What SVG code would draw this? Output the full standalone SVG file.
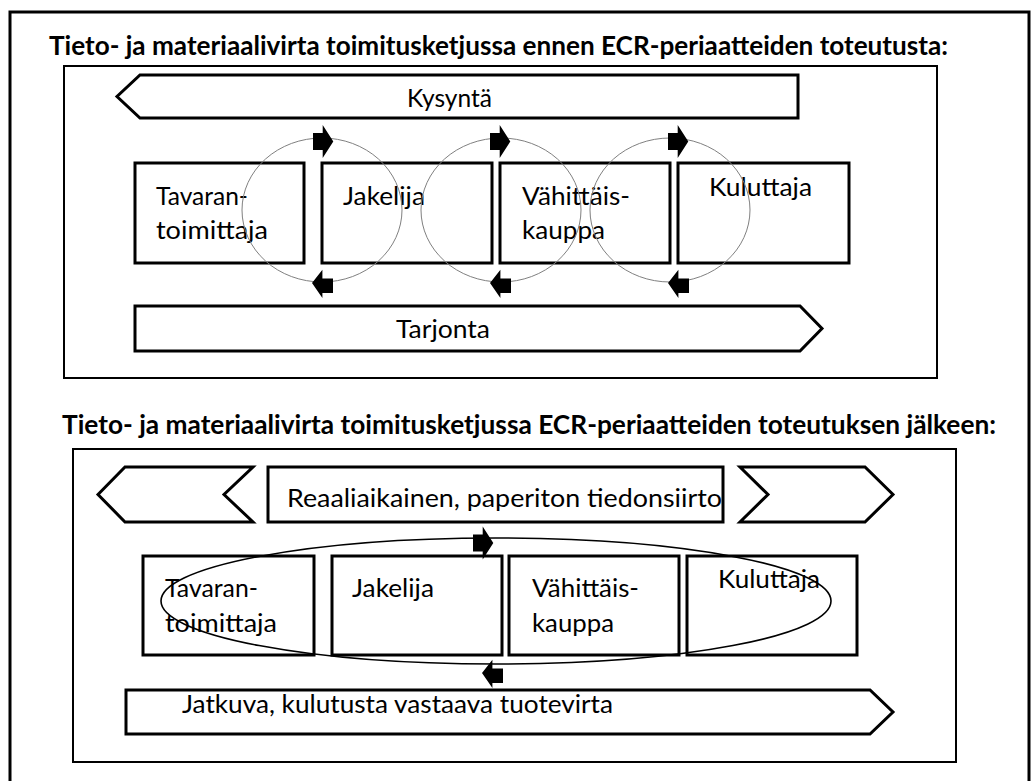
<svg xmlns="http://www.w3.org/2000/svg" width="1033" height="781" viewBox="0 0 1033 781">
<style>
.frame{fill:none;stroke:#000;stroke-width:3}
.panel{fill:none;stroke:#000;stroke-width:2}
.band{fill:#fff;stroke:#000;stroke-width:3;stroke-linejoin:miter}
.node{fill:#fff;stroke:#000;stroke-width:3}
.title{font-family:Lato,"Liberation Sans",sans-serif;font-weight:bold;font-size:26px;fill:#000}
.lbl{font-family:Lato,"Liberation Sans",sans-serif;font-size:25px;fill:#000}
.ring{fill:none;stroke:#808080;stroke-width:1}
.loop{fill:none;stroke:#000;stroke-width:1.6}
.ah{fill:#000}
</style>
<defs>
<path id="ar" d="M0,-8.5 H9.7 V-16.5 L20.3,0 L9.7,16.5 V8.5 H0 Z"/>
<path id="al" d="M0,0 L10.4,-13.3 V-4.5 H21 V10 H10.4 V15 Z"/>
</defs>
<rect class="frame" x="10" y="12" width="1019" height="790"/>

<g id="section-before">
<text class="title" x="49" y="55" textLength="899" lengthAdjust="spacingAndGlyphs">Tieto- ja materiaalivirta toimitusketjussa ennen ECR-periaatteiden toteutusta:</text>
<rect class="panel" x="64" y="66" width="873" height="312"/>
</g>

<g id="kysynta">
<path class="band" d="M140,75 H798 V118 H140 L117,96.5 Z"/>
<text class="lbl" x="407" y="107" textLength="85" lengthAdjust="spacingAndGlyphs">Kysyntä</text>
</g>
<g id="tarjonta">
<path class="band" d="M135,306 H800 L822,328.5 L800,351 H135 Z"/>
<text class="lbl" x="396" y="338" textLength="94" lengthAdjust="spacingAndGlyphs">Tarjonta</text>
</g>

<g id="r1-tavarantoimittaja">
<rect class="node" x="135" y="163" width="169" height="100"/>
<text class="lbl" x="156" y="205" textLength="92" lengthAdjust="spacingAndGlyphs">Tavaran-</text>
<text class="lbl" x="156" y="239" textLength="112" lengthAdjust="spacingAndGlyphs">toimittaja</text>
</g>
<g id="r1-jakelija">
<rect class="node" x="322" y="163" width="170" height="100"/>
<text class="lbl" x="343" y="205" textLength="82" lengthAdjust="spacingAndGlyphs">Jakelija</text>
</g>
<g id="r1-vahittaiskauppa">
<rect class="node" x="500" y="163" width="170" height="100"/>
<text class="lbl" x="522" y="205" textLength="108" lengthAdjust="spacingAndGlyphs">Vähittäis-</text>
<text class="lbl" x="522" y="239" textLength="83" lengthAdjust="spacingAndGlyphs">kauppa</text>
</g>
<g id="r1-kuluttaja">
<rect class="node" x="678" y="163" width="171" height="100"/>
<text class="lbl" x="709" y="196" textLength="103" lengthAdjust="spacingAndGlyphs">Kuluttaja</text>
</g>

<g id="section-after">
<text class="title" x="62" y="434" textLength="934" lengthAdjust="spacingAndGlyphs">Tieto- ja materiaalivirta toimitusketjussa ECR-periaatteiden toteutuksen jälkeen:</text>
<rect class="panel" x="73" y="449" width="883" height="313"/>
</g>

<g id="tiedonsiirto">
<path class="band" d="M98,494.5 L125,467 H253 L224,494.5 L253,522 H125 Z"/>
<rect class="band" x="268" y="467" width="455" height="55"/>
<path class="band" d="M740,467 H865 L893,494.5 L865,522 H740 L768,494.5 Z"/>
<text class="lbl" x="287" y="507" textLength="435" lengthAdjust="spacingAndGlyphs">Reaaliaikainen, paperiton tiedonsiirto</text>
</g>
<g id="tuotevirta">
<path class="band" d="M126,690 H870 L893,712 L870,734 H126 Z"/>
<text class="lbl" x="182" y="713" textLength="431" lengthAdjust="spacingAndGlyphs">Jatkuva, kulutusta vastaava tuotevirta</text>
</g>

<g id="r2-tavarantoimittaja">
<rect class="node" x="143" y="556" width="171" height="99"/>
<text class="lbl" x="165" y="597" textLength="93" lengthAdjust="spacingAndGlyphs">Tavaran-</text>
<text class="lbl" x="165" y="632" textLength="112" lengthAdjust="spacingAndGlyphs">toimittaja</text>
</g>
<g id="r2-jakelija">
<rect class="node" x="332" y="556" width="170" height="99"/>
<text class="lbl" x="352" y="597" textLength="82" lengthAdjust="spacingAndGlyphs">Jakelija</text>
</g>
<g id="r2-vahittaiskauppa">
<rect class="node" x="509" y="556" width="170" height="99"/>
<text class="lbl" x="532" y="597" textLength="107" lengthAdjust="spacingAndGlyphs">Vähittäis-</text>
<text class="lbl" x="532" y="632" textLength="82" lengthAdjust="spacingAndGlyphs">kauppa</text>
</g>
<g id="r2-kuluttaja">
<rect class="node" x="687" y="556" width="170" height="99"/>
<text class="lbl" x="718" y="588" textLength="102" lengthAdjust="spacingAndGlyphs">Kuluttaja</text>
</g>

<g id="connectors">
<ellipse class="ring" cx="322" cy="210" rx="80" ry="72"/>
<ellipse class="ring" cx="501" cy="210" rx="80" ry="72"/>
<ellipse class="ring" cx="670" cy="210" rx="80" ry="72"/>
<use href="#ar" class="ah" x="313" y="141.5"/>
<use href="#ar" class="ah" x="490" y="141.5"/>
<use href="#ar" class="ah" x="668" y="141.5"/>
<use href="#al" class="ah" x="312" y="283"/>
<use href="#al" class="ah" x="490" y="283"/>
<use href="#al" class="ah" x="668" y="283"/>
<ellipse class="loop" cx="496" cy="601" rx="335" ry="63"/>
<use href="#ar" class="ah" x="473" y="543"/>
<use href="#al" class="ah" x="482" y="673"/>
</g>
</svg>
